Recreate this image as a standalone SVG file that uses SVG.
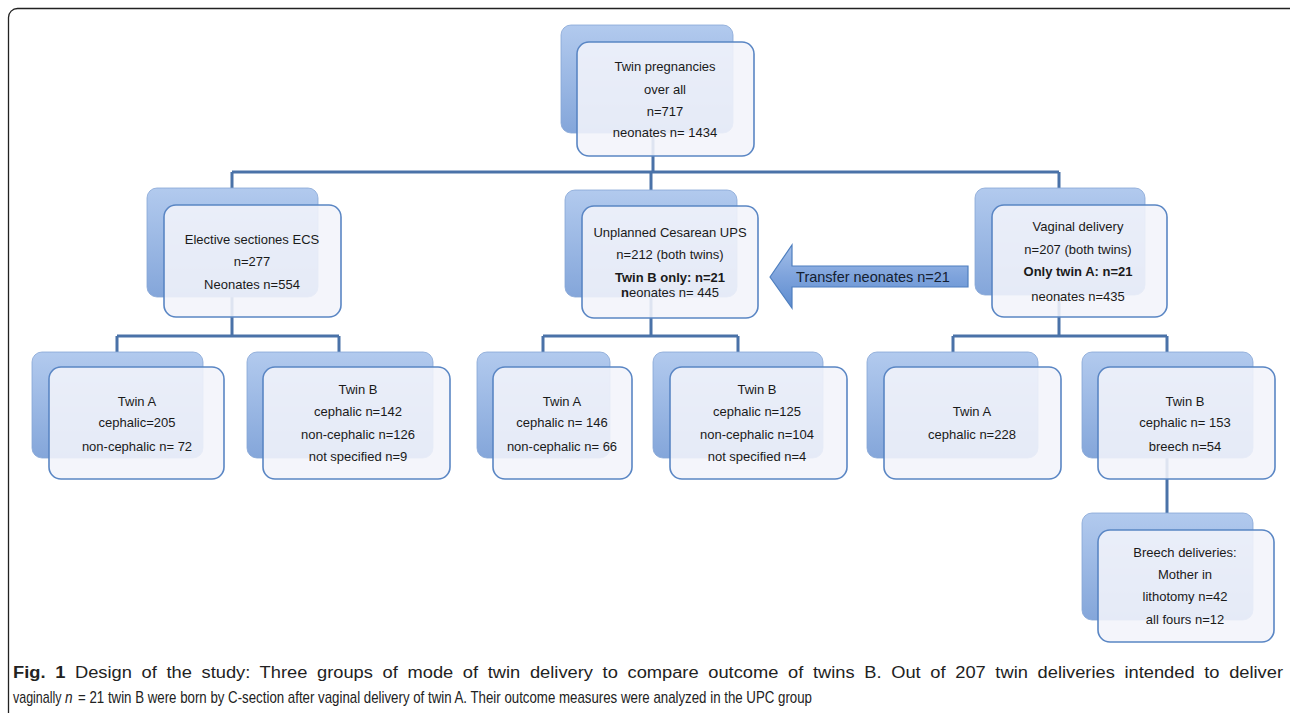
<svg xmlns="http://www.w3.org/2000/svg" width="1290" height="713" viewBox="0 0 1290 713">
<style>
.sh{fill:url(#shg);stroke:#86a6d6;stroke-width:0.8;}
.fr{fill:#f3f4fa;fill-opacity:0.88;stroke:#5a86c4;stroke-width:1.6;}
.cn{stroke:#4a72a8;stroke-width:3;fill:none;}
text{font-family:"Liberation Sans",Arial,sans-serif;font-size:13px;fill:#1a1a1a;text-anchor:middle;}
.b{font-weight:bold;}
.cap{font-size:16px;text-anchor:start;fill:#222;}
</style>
<defs>
<linearGradient id="shg" x1="0" y1="0" x2="0" y2="1">
<stop offset="0" stop-color="#b2caee"/>
<stop offset="1" stop-color="#84a6da"/>
</linearGradient>
<linearGradient id="arg" x1="0" y1="0" x2="0" y2="1">
<stop offset="0" stop-color="#a3bfe9"/>
<stop offset="0.5" stop-color="#7ea3dc"/>
<stop offset="1" stop-color="#5d8ccf"/>
</linearGradient>
</defs>
<rect x="8.5" y="8.5" width="1295" height="720" rx="9" fill="none" stroke="#222" stroke-width="1.3"/>
<g id="connectors">
<path class="cn" d="M653 130 V172 M232 172 H1059 M232 172 V200 M651 172 V200 M1059 172 V200"/>
<path class="cn" d="M232 290 V336 M117 336 H339 M117 336 V362 M339 336 V362"/>
<path class="cn" d="M651 290 V336 M543 336 H738 M543 336 V362 M738 336 V362"/>
<path class="cn" d="M1059 290 V336 M953 336 H1167 M953 336 V362 M1167 336 V362"/>
<path class="cn" d="M1167 440 V520"/>
</g>
<g id="n_top">
<rect class="sh" x="561" y="25" width="172" height="108" rx="10"/>
<rect class="fr" x="577" y="42" width="177" height="114" rx="12"/>
<text x="665" y="71">Twin pregnancies</text>
<text x="665" y="94">over all</text>
<text x="665" y="116">n=717</text>
<text x="665" y="137">neonates n= 1434</text>
</g>
<g id="n_ecs">
<rect class="sh" x="147" y="188" width="171" height="109" rx="10"/>
<rect class="fr" x="164" y="205" width="177" height="112" rx="12"/>
<text x="252" y="244">Elective sectiones ECS</text>
<text x="252" y="266">n=277</text>
<text x="252" y="289">Neonates n=554</text>
</g>
<g id="n_ups">
<rect class="sh" x="565" y="190" width="172" height="107" rx="10"/>
<rect class="fr" x="582" y="206" width="176" height="112" rx="12"/>
<text x="670" y="237">Unplanned Cesarean UPS</text>
<text x="670" y="259">n=212 (both twins)</text>
<text x="670" y="282" class="b">Twin B only: n=21</text>
<text x="670" y="297"><tspan class="b">n</tspan>eonates n= 445</text>
</g>
<g id="transfer">
<path d="M770 277 L792 245 V266 H968 V287 H792 V308 Z" fill="url(#arg)" stroke="#4f7fbf" stroke-width="1.2"/>
<text x="873" y="282" style="font-size:14.5px;fill:#142030">Transfer neonates n=21</text>
</g>
<g id="n_vag">
<rect class="sh" x="975" y="188" width="170" height="107" rx="10"/>
<rect class="fr" x="992" y="205" width="175" height="112" rx="12"/>
<text x="1078" y="231">Vaginal delivery</text>
<text x="1078" y="254">n=207 (both twins)</text>
<text x="1078" y="276" class="b">Only twin A: n=21</text>
<text x="1078" y="301">neonates n=435</text>
</g>
<g id="n_ecs_a">
<rect class="sh" x="32" y="352" width="171" height="106" rx="10"/>
<rect class="fr" x="49" y="367" width="175" height="112" rx="12"/>
<text x="137" y="406">Twin A</text>
<text x="137" y="427">cephalic=205</text>
<text x="137" y="451">non-cephalic n= 72</text>
</g>
<g id="n_ecs_b">
<rect class="sh" x="247" y="352" width="186" height="106" rx="10"/>
<rect class="fr" x="263" y="367" width="187" height="112" rx="12"/>
<text x="358" y="394">Twin B</text>
<text x="358" y="416">cephalic n=142</text>
<text x="358" y="439">non-cephalic n=126</text>
<text x="358" y="461">not specified n=9</text>
</g>
<g id="n_ups_a">
<rect class="sh" x="477" y="352" width="133" height="106" rx="10"/>
<rect class="fr" x="493" y="367" width="139" height="112" rx="12"/>
<text x="562" y="406">Twin A</text>
<text x="562" y="427">cephalic n= 146</text>
<text x="562" y="451">non-cephalic n= 66</text>
</g>
<g id="n_ups_b">
<rect class="sh" x="653" y="352" width="170" height="106" rx="10"/>
<rect class="fr" x="670" y="367" width="177" height="112" rx="12"/>
<text x="757" y="394">Twin B</text>
<text x="757" y="416">cephalic n=125</text>
<text x="757" y="439">non-cephalic n=104</text>
<text x="757" y="461">not specified n=4</text>
</g>
<g id="n_vag_a">
<rect class="sh" x="867" y="352" width="171" height="106" rx="10"/>
<rect class="fr" x="884" y="367" width="177" height="112" rx="12"/>
<text x="972" y="416">Twin A</text>
<text x="972" y="439">cephalic n=228</text>
</g>
<g id="n_vag_b">
<rect class="sh" x="1082" y="352" width="171" height="106" rx="10"/>
<rect class="fr" x="1098" y="367" width="177" height="112" rx="12"/>
<text x="1185" y="406">Twin B</text>
<text x="1185" y="427">cephalic n= 153</text>
<text x="1185" y="451">breech n=54</text>
</g>
<g id="n_breech">
<rect class="sh" x="1082" y="513" width="171" height="107" rx="10"/>
<rect class="fr" x="1098" y="530" width="176" height="112" rx="12"/>
<text x="1185" y="557">Breech deliveries:</text>
<text x="1185" y="579">Mother in</text>
<text x="1185" y="601">lithotomy n=42</text>
<text x="1185" y="624">all fours n=12</text>
</g>
<g id="caption">
<text class="cap" x="13" y="678" style="word-spacing:4px" textLength="1270" lengthAdjust="spacingAndGlyphs"><tspan class="b">Fig. 1</tspan> Design of the study: Three groups of mode of twin delivery to compare outcome of twins B. Out of 207 twin deliveries intended to deliver</text>
<text class="cap" transform="translate(13 703) scale(0.78 1)">vaginally</text>
<text class="cap" transform="translate(65 703) scale(0.85 1)" font-style="italic">n</text>
<text class="cap" transform="translate(78 703) scale(0.78 1)" textLength="941" lengthAdjust="spacingAndGlyphs">= 21 twin B were born by C-section after vaginal delivery of twin A. Their outcome measures were analyzed in the UPC group</text>
</g>
</svg>
